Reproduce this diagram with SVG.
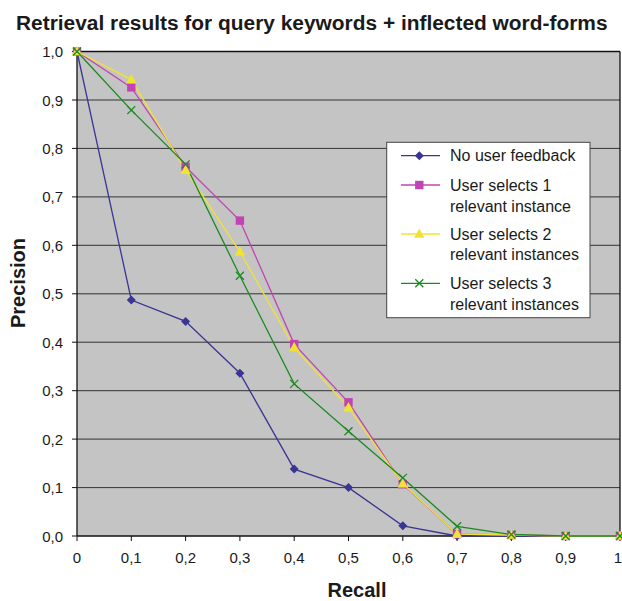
<svg xmlns="http://www.w3.org/2000/svg" xmlns:xlink="http://www.w3.org/1999/xlink" width="622" height="601" viewBox="0 0 622 601">
  <style>
    text { font-family: "Liberation Sans", Arial, Helvetica, sans-serif; fill: #1a1a1a; }
    .title { font-size: 20.9px; font-weight: bold; }
    .axis-title { font-size: 20px; font-weight: bold; }
    .tick { font-size: 15px; }
    .ylab { text-anchor: end; }
    .xlab { text-anchor: middle; }
    .legend-text { font-size: 16px; }
    .grid { stroke: #333; stroke-width: 1; }
    .axis { stroke: #111; stroke-width: 1.3; fill: none; }
    .tickmark { stroke: #111; stroke-width: 1; }
    .s-blue { stroke: #3a3594; fill: none; stroke-width: 1.3; }
    .s-magenta { stroke: #c244b4; fill: none; stroke-width: 1.3; }
    .s-yellow { stroke: #efe431; fill: none; stroke-width: 1.3; }
    .s-green { stroke: #1a8a22; fill: none; stroke-width: 1.3; }
  </style>
  <defs>
    <path id="m-diamond" d="M0,-4.5 L4.5,0 L0,4.5 L-4.5,0 Z" fill="#3a3594"/>
    <rect id="m-square" x="-4.2" y="-4.2" width="8.4" height="8.4" fill="#c244b4"/>
    <path id="m-triangle" d="M0,-5.5 L5.2,3.8 L-5.2,3.8 Z" fill="#efe431"/>
    <path id="m-cross" d="M-4,-4 L4,4 M-4,4 L4,-4" stroke="#1a8a22" stroke-width="1.3" fill="none"/>
  </defs>

  <!-- chart title -->
  <text class="title" x="16" y="30">Retrieval results for query keywords + inflected word-forms</text>

  <!-- plot area background -->
  <rect x="77" y="51.5" width="543" height="484.5" fill="#c4c4c4"/>

  <!-- horizontal gridlines every 0.1 -->
  <g id="gridlines">
    <line class="grid" x1="77" x2="620" y1="100" y2="100"/>
    <line class="grid" x1="77" x2="620" y1="148.4" y2="148.4"/>
    <line class="grid" x1="77" x2="620" y1="196.9" y2="196.9"/>
    <line class="grid" x1="77" x2="620" y1="245.3" y2="245.3"/>
    <line class="grid" x1="77" x2="620" y1="293.8" y2="293.8"/>
    <line class="grid" x1="77" x2="620" y1="342.2" y2="342.2"/>
    <line class="grid" x1="77" x2="620" y1="390.7" y2="390.7"/>
    <line class="grid" x1="77" x2="620" y1="439.1" y2="439.1"/>
    <line class="grid" x1="77" x2="620" y1="487.6" y2="487.6"/>
  </g>

  <!-- frame and axes -->
  <g id="axes">
    <line class="axis" x1="77" x2="620" y1="51.5" y2="51.5"/>
    <line class="axis" x1="620" x2="620" y1="51.5" y2="536"/>
    <line class="axis" x1="77" x2="77" y1="51.5" y2="536"/>
    <line class="axis" x1="77" x2="620" y1="536" y2="536"/>
    <!-- y ticks -->
    <path class="tickmark" d="M72,51.5H77 M72,100H77 M72,148.4H77 M72,196.9H77 M72,245.3H77 M72,293.8H77 M72,342.2H77 M72,390.7H77 M72,439.1H77 M72,487.6H77 M72,536H77"/>
    <!-- x ticks -->
    <path class="tickmark" d="M77,536V541 M131.3,536V541 M185.6,536V541 M239.9,536V541 M294.2,536V541 M348.5,536V541 M402.8,536V541 M457.1,536V541 M511.4,536V541 M565.7,536V541 M620,536V541"/>
  </g>

  <!-- y tick labels -->
  <g id="y-labels" class="tick ylab">
    <text class="tick ylab" x="63" y="57">1,0</text>
    <text class="tick ylab" x="63" y="105.5">0,9</text>
    <text class="tick ylab" x="63" y="153.9">0,8</text>
    <text class="tick ylab" x="63" y="202.4">0,7</text>
    <text class="tick ylab" x="63" y="250.8">0,6</text>
    <text class="tick ylab" x="63" y="299.3">0,5</text>
    <text class="tick ylab" x="63" y="347.7">0,4</text>
    <text class="tick ylab" x="63" y="396.2">0,3</text>
    <text class="tick ylab" x="63" y="444.6">0,2</text>
    <text class="tick ylab" x="63" y="493.1">0,1</text>
    <text class="tick ylab" x="63" y="541.5">0,0</text>
  </g>

  <!-- x tick labels -->
  <g id="x-labels">
    <text class="tick xlab" x="77" y="563">0</text>
    <text class="tick xlab" x="131.3" y="563">0,1</text>
    <text class="tick xlab" x="185.6" y="563">0,2</text>
    <text class="tick xlab" x="239.9" y="563">0,3</text>
    <text class="tick xlab" x="294.2" y="563">0,4</text>
    <text class="tick xlab" x="348.5" y="563">0,5</text>
    <text class="tick xlab" x="402.8" y="563">0,6</text>
    <text class="tick xlab" x="457.1" y="563">0,7</text>
    <text class="tick xlab" x="511.4" y="563">0,8</text>
    <text class="tick xlab" x="565.7" y="563">0,9</text>
    <text class="tick xlab" x="618" y="563">1</text>
  </g>

  <!-- axis titles -->
  <text class="axis-title" x="357" y="597" text-anchor="middle">Recall</text>
  <text class="axis-title" transform="translate(25,283) rotate(-90)" text-anchor="middle">Precision</text>

  <!-- data series -->
  <g id="connectors">
    <polyline id="line-no-feedback" class="s-blue" points="77,51.5 131.3,300 185.6,321.4 239.9,373.2 294.2,469.1 348.5,487.6 402.8,525.8 457.1,536 511.4,536 565.7,536 620,536"/>
    <polyline id="line-select-1" class="s-magenta" points="77,51.5 131.3,87.4 185.6,166.8 239.9,220.6 294.2,344.1 348.5,402.3 402.8,484.2 457.1,534.1 511.4,535 565.7,536 620,536"/>
    <polyline id="line-select-2" class="s-yellow" points="77,51.5 131.3,79.6 185.6,170.2 239.9,251.6 294.2,347.5 348.5,407.6 402.8,483.7 457.1,534.1 511.4,535 565.7,536 620,536"/>
    <polyline id="line-select-3" class="s-green" points="77,51.5 131.3,110.1 185.6,164.4 239.9,275.8 294.2,383.9 348.5,431.3 402.8,477.9 457.1,526.3 511.4,534.5 565.7,536 620,536"/>
  </g>

  <g id="markers-no-feedback">
    <use xlink:href="#m-diamond" x="77" y="51.5"/>
    <use xlink:href="#m-diamond" x="131.3" y="300"/>
    <use xlink:href="#m-diamond" x="185.6" y="321.4"/>
    <use xlink:href="#m-diamond" x="239.9" y="373.2"/>
    <use xlink:href="#m-diamond" x="294.2" y="469.1"/>
    <use xlink:href="#m-diamond" x="348.5" y="487.6"/>
    <use xlink:href="#m-diamond" x="402.8" y="525.8"/>
    <use xlink:href="#m-diamond" x="457.1" y="536"/>
    <use xlink:href="#m-diamond" x="511.4" y="536"/>
    <use xlink:href="#m-diamond" x="565.7" y="536"/>
    <use xlink:href="#m-diamond" x="620" y="536"/>
  </g>
  <g id="markers-select-1">
    <use xlink:href="#m-square" x="77" y="51.5"/>
    <use xlink:href="#m-square" x="131.3" y="87.4"/>
    <use xlink:href="#m-square" x="185.6" y="166.8"/>
    <use xlink:href="#m-square" x="239.9" y="220.6"/>
    <use xlink:href="#m-square" x="294.2" y="344.1"/>
    <use xlink:href="#m-square" x="348.5" y="402.3"/>
    <use xlink:href="#m-square" x="402.8" y="484.2"/>
    <use xlink:href="#m-square" x="457.1" y="534.1"/>
    <use xlink:href="#m-square" x="511.4" y="535"/>
    <use xlink:href="#m-square" x="565.7" y="536"/>
    <use xlink:href="#m-square" x="620" y="536"/>
  </g>
  <g id="markers-select-2">
    <use xlink:href="#m-triangle" x="77" y="51.5"/>
    <use xlink:href="#m-triangle" x="131.3" y="79.6"/>
    <use xlink:href="#m-triangle" x="185.6" y="170.2"/>
    <use xlink:href="#m-triangle" x="239.9" y="251.6"/>
    <use xlink:href="#m-triangle" x="294.2" y="347.5"/>
    <use xlink:href="#m-triangle" x="348.5" y="407.6"/>
    <use xlink:href="#m-triangle" x="402.8" y="483.7"/>
    <use xlink:href="#m-triangle" x="457.1" y="534.1"/>
    <use xlink:href="#m-triangle" x="511.4" y="535"/>
    <use xlink:href="#m-triangle" x="565.7" y="536"/>
    <use xlink:href="#m-triangle" x="620" y="536"/>
  </g>
  <g id="markers-select-3">
    <use xlink:href="#m-cross" x="77" y="51.5"/>
    <use xlink:href="#m-cross" x="131.3" y="110.1"/>
    <use xlink:href="#m-cross" x="185.6" y="164.4"/>
    <use xlink:href="#m-cross" x="239.9" y="275.8"/>
    <use xlink:href="#m-cross" x="294.2" y="383.9"/>
    <use xlink:href="#m-cross" x="348.5" y="431.3"/>
    <use xlink:href="#m-cross" x="402.8" y="477.9"/>
    <use xlink:href="#m-cross" x="457.1" y="526.3"/>
    <use xlink:href="#m-cross" x="511.4" y="534.5"/>
    <use xlink:href="#m-cross" x="565.7" y="536"/>
    <use xlink:href="#m-cross" x="620" y="536"/>
  </g>

  <!-- legend -->
  <g id="legend">
    <rect x="386.7" y="142.3" width="203.3" height="175.4" fill="#ffffff" stroke="#444" stroke-width="1"/>
    <line class="s-blue" x1="401" x2="440" y1="155.7" y2="155.7"/>
    <use xlink:href="#m-diamond" x="419.3" y="155.7"/>
    <text class="legend-text" x="450" y="161.4">No user feedback</text>

    <line class="s-magenta" x1="401" x2="440" y1="185" y2="185"/>
    <use xlink:href="#m-square" x="419.3" y="185"/>
    <text class="legend-text" x="450" y="190.7">User selects 1</text>
    <text class="legend-text" x="450" y="212.2">relevant instance</text>

    <line class="s-yellow" x1="401" x2="440" y1="234" y2="234"/>
    <use xlink:href="#m-triangle" x="419.3" y="234"/>
    <text class="legend-text" x="450" y="239.7">User selects 2</text>
    <text class="legend-text" x="450" y="259.7">relevant instances</text>

    <line class="s-green" x1="401" x2="440" y1="283.3" y2="283.3"/>
    <use xlink:href="#m-cross" x="419.3" y="283.3"/>
    <text class="legend-text" x="450" y="289">User selects 3</text>
    <text class="legend-text" x="450" y="310">relevant instances</text>
  </g>
</svg>
